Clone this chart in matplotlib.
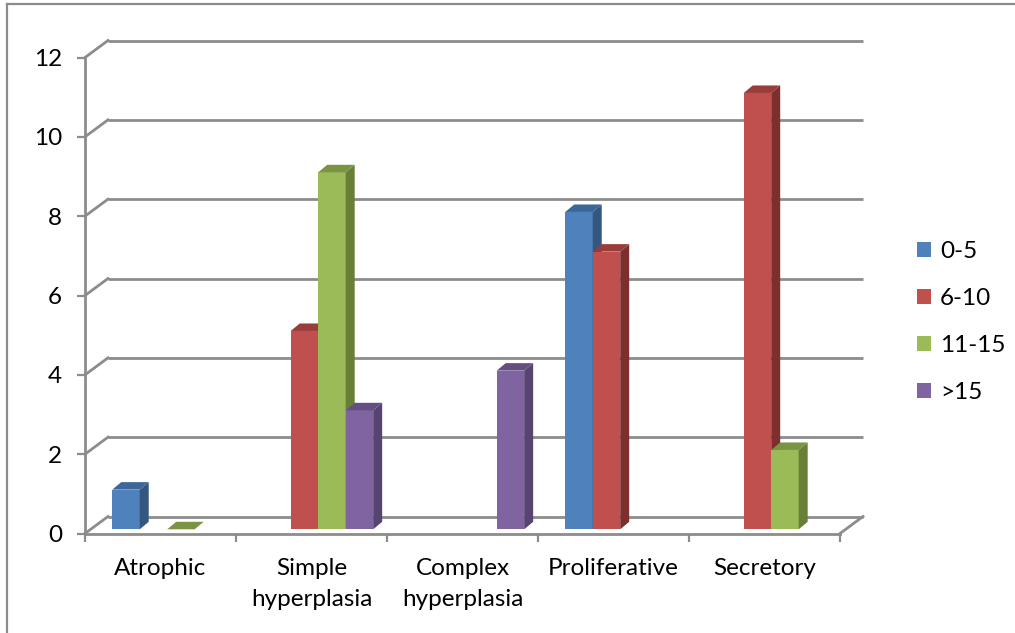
import matplotlib
matplotlib.use("Agg")
import matplotlib.pyplot as plt
from matplotlib.patches import Polygon, Patch
from matplotlib.lines import Line2D

# ---- data -------------------------------------------------------------
categories = ["Atrophic", "Simple\nhyperplasia", "Complex\nhyperplasia",
              "Proliferative", "Secretory"]
series_names = ["0-5", "6-10", "11-15", ">15"]
vals_0_5 = [1, None, None, 8, None]
vals_6_10 = [None, 5, None, 7, 11]
vals_11_15 = [0, 9, None, None, 2]
vals_gt15 = [None, 3, 4, None, None]
y_ticks = [0, 2, 4, 6, 8, 10, 12]

series_values = [vals_0_5, vals_6_10, vals_11_15, vals_gt15]
front_cols = ["#4F81BD", "#C0504D", "#9BBB59", "#8064A2"]
top_cols = ["#3D6699", "#9A3D3A", "#7A9444", "#654F82"]
side_cols = ["#34577F", "#7E2F2D", "#687F38", "#574471"]

# ---- figure / front plane ----------------------------------------------
W, H = 1015, 633
fig = plt.figure(figsize=(W / 100, H / 100), dpi=100)
FONT = "Lato"
FS = 17.5

x0_px, x1_px = 85, 840
y0_px, y12_px = 533.5, 57.5
ax = fig.add_axes([x0_px / W, (H - y0_px) / H,
                   (x1_px - x0_px) / W, (y0_px - y12_px) / H])
ax.set_xlim(0, len(categories))
ax.set_ylim(0, 12)
for s in ax.spines.values():
    s.set_visible(False)

ppx = (x1_px - x0_px) / len(categories)   # pixels per category
ppy = (y0_px - y12_px) / 12.0             # pixels per unit


def ux(p):
    return p / ppx


def uy(p):
    return p / ppy


grid_col = "#8C8C8C"
wall_dx, wall_dy = ux(23), uy(17)

# back-wall gridlines and left-wall diagonals
for t in y_ticks:
    ax.plot([wall_dx, len(categories) + wall_dx], [t + wall_dy, t + wall_dy],
            color=grid_col, lw=2.0, clip_on=False, zorder=1,
            solid_capstyle="butt")
    ax.plot([0, wall_dx], [t, t + wall_dy], color=grid_col, lw=2.0,
            clip_on=False, zorder=1)
# floor edges and left axis
ax.plot([0, len(categories)], [0, 0], color=grid_col, lw=2.0, clip_on=False,
        zorder=1)
ax.plot([len(categories), len(categories) + wall_dx], [0, wall_dy],
        color=grid_col, lw=2.0, clip_on=False, zorder=1)
ax.plot([0, 0], [0, 12], color=grid_col, lw=2.0, clip_on=False, zorder=1)

# ticks
ax.set_xticks(range(len(categories) + 1))
ax.set_xticklabels([])
ax.set_xticks([i + 0.5 for i in range(len(categories))], minor=True)
ax.set_xticklabels(categories, minor=True, fontsize=FS, family=FONT,
                   linespacing=1.6)
ax.tick_params(axis="x", which="major", length=6, width=1.6, color=grid_col)
ax.tick_params(axis="x", which="minor", length=0, pad=17.5)
ax.set_yticks(y_ticks)
ax.set_yticklabels([str(t) for t in y_ticks], fontsize=FS, family=FONT)
ax.tick_params(axis="y", length=6, width=1.6, color=grid_col, pad=10.5)

# ---- 3-D columns -------------------------------------------------------
bar_w = 0.182
margin = (1 - bar_w * len(series_names)) / 2
shift_x, shift_y = ux(6.7), uy(4.2)
depth_x, depth_y = ux(9), uy(7.5)

z = 3
for i in range(len(categories)):
    for j, vals in enumerate(series_values):
        v = vals[i]
        if v is None:
            continue
        left = i + margin + j * bar_w + shift_x
        base = shift_y
        ax.bar(left, v, width=bar_w, bottom=base, align="edge",
               color=front_cols[j], linewidth=0, clip_on=False, zorder=z)
        side = Polygon([(left + bar_w, base), (left + bar_w, base + v),
                        (left + bar_w + depth_x, base + v + depth_y),
                        (left + bar_w + depth_x, base + depth_y)],
                       closed=True, facecolor=side_cols[j], lw=0,
                       clip_on=False, zorder=z)
        top = Polygon([(left, base + v), (left + bar_w, base + v),
                       (left + bar_w + depth_x, base + v + depth_y),
                       (left + depth_x, base + v + depth_y)],
                      closed=True, facecolor=top_cols[j], lw=0,
                      clip_on=False, zorder=z)
        ax.add_patch(side)
        ax.add_patch(top)
        z += 1

# ---- legend ------------------------------------------------------------
handles = [Patch(facecolor=c, edgecolor="none") for c in front_cols]
fig.legend(handles, series_names, loc="center left",
           bbox_to_anchor=(895 / W, 1 - 322 / H), frameon=False,
           prop={"family": FONT, "size": FS}, handlelength=0.6,
           handleheight=0.6, handletextpad=0.35, labelspacing=1.07)

# chart border (top and left edges)
fig.add_artist(Line2D([7 / W, 1], [1 - 4 / H, 1 - 4 / H], color="#8C8C8C",
                      lw=1.6, transform=fig.transFigure))
fig.add_artist(Line2D([7 / W, 7 / W], [0, 1 - 4 / H], color="#8C8C8C",
                      lw=1.6, transform=fig.transFigure))

fig.savefig("out.png", dpi=100, facecolor="white")
